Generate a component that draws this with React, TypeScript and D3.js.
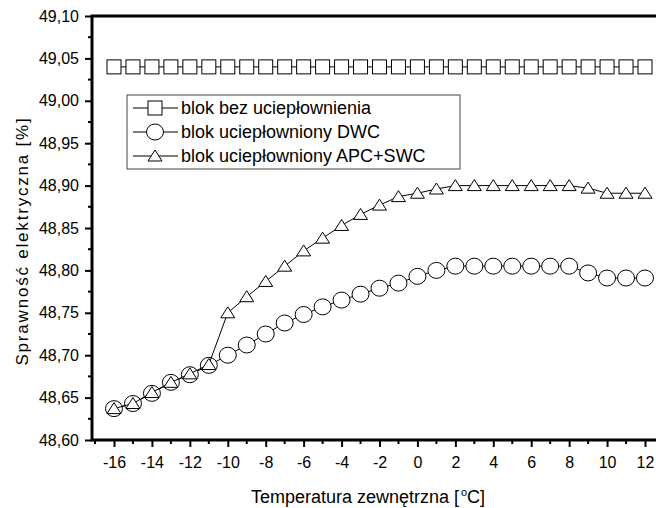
import React, { useEffect, useRef } from 'react';
import * as d3 from 'd3';

const width = 656;
const height = 508;
const margin = { top: 16, right: 0, bottom: 68, left: 92 };

// temperatures [°C]
const temps = [
  -16, -15, -14, -13, -12, -11, -10, -9, -8, -7, -6, -5, -4, -3, -2, -1, 0, 1,
  2, 3, 4, 5, 6, 7, 8, 9, 10, 11, 12,
];

const bezUcieplownienia = temps.map(() => 49.04);

const dwc = [
  48.637, 48.643, 48.655, 48.668, 48.677, 48.688, 48.7, 48.712, 48.725, 48.738,
  48.748, 48.757, 48.765, 48.772, 48.779, 48.785, 48.793, 48.8, 48.805, 48.805,
  48.805, 48.805, 48.805, 48.805, 48.805, 48.797, 48.791, 48.791, 48.791,
];

const apcSwc = [
  48.637, 48.643, 48.656, 48.668, 48.678, 48.689, 48.75, 48.769, 48.787,
  48.805, 48.823, 48.838, 48.853, 48.866, 48.877, 48.887, 48.891, 48.896,
  48.9, 48.9, 48.9, 48.9, 48.9, 48.9, 48.9, 48.897, 48.891, 48.891, 48.891,
];

const seriesNames = [
  'blok bez uciep\u0142ownienia',
  'blok uciep\u0142owniony DWC',
  'blok uciep\u0142owniony APC+SWC',
];

const yTicks = [48.6, 48.65, 48.7, 48.75, 48.8, 48.85, 48.9, 48.95, 49.0, 49.05, 49.1];
const xTicks = [-16, -14, -12, -10, -8, -6, -4, -2, 0, 2, 4, 6, 8, 10, 12];

const font = 'Liberation Sans, Arial, sans-serif';

export default function App() {
  const ref = useRef<SVGSVGElement>(null);

  useEffect(() => {
    if (!ref.current) return;
    const svg = d3.select(ref.current);
    svg.selectAll('*').remove();

    const x = d3
      .scaleLinear()
      .domain([-17.16, 12.58])
      .range([margin.left, width - margin.right]);
    const y = d3
      .scaleLinear()
      .domain([48.6, 49.1])
      .range([height - margin.bottom, margin.top]);

    const fmt = (v: number) => d3.format('.2f')(v).replace('.', ',');

    // minor ticks
    const yMinor = d3.range(48.625, 49.1, 0.05);
    svg
      .append('g')
      .selectAll('line')
      .data(yMinor)
      .join('line')
      .attr('x1', margin.left)
      .attr('x2', margin.left - 4)
      .attr('y1', (d) => y(d))
      .attr('y2', (d) => y(d))
      .attr('stroke', '#000')
      .attr('stroke-width', 2);
    const xMinor = d3.range(-17, 13, 2);
    svg
      .append('g')
      .selectAll('line')
      .data(xMinor)
      .join('line')
      .attr('x1', (d) => x(d))
      .attr('x2', (d) => x(d))
      .attr('y1', y(48.6))
      .attr('y2', y(48.6) + 4)
      .attr('stroke', '#000')
      .attr('stroke-width', 2);

    // y axis
    const yAxis = svg
      .append('g')
      .attr('transform', `translate(${margin.left},0)`)
      .call(d3.axisLeft(y).tickValues(yTicks).tickFormat(fmt as any).tickSize(7).tickPadding(6));
    yAxis.select('.domain').remove();
    yAxis.selectAll('line').attr('stroke-width', 2);
    yAxis.selectAll('text').attr('font-family', font).attr('font-size', 16).attr('fill', '#000');

    // x axis
    const xAxis = svg
      .append('g')
      .attr('transform', `translate(0,${y(48.6)})`)
      .call(
        d3
          .axisBottom(x)
          .tickValues(xTicks)
          .tickFormat((d: any) => String(d))
          .tickSize(7)
          .tickPadding(10)
      );
    xAxis.select('.domain').remove();
    xAxis.selectAll('line').attr('stroke-width', 2);
    xAxis.selectAll('text').attr('font-family', font).attr('font-size', 16).attr('fill', '#000');

    // frame
    svg
      .append('path')
      .attr(
        'd',
        `M${x(12.58)},${y(49.1)}H${x(-17.16)}V${y(48.6)}H${x(12.58)}`
      )
      .attr('fill', 'none')
      .attr('stroke', '#000')
      .attr('stroke-width', 3);

    const line = d3
      .line<number>()
      .x((_, i) => x(temps[i]))
      .y((d) => y(d));

    const drawSquares = (sel: any) =>
      sel
        .append('rect')
        .attr('x', -7)
        .attr('y', -7)
        .attr('width', 14)
        .attr('height', 14);
    const drawCircles = (sel: any) =>
      sel.append('ellipse').attr('rx', 8.5).attr('ry', 8);
    const drawTriangles = (sel: any) =>
      sel.append('path').attr('d', 'M0,-6L7,5H-7Z');

    const series = [
      { data: bezUcieplownienia, draw: drawSquares },
      { data: dwc, draw: drawCircles },
      { data: apcSwc, draw: drawTriangles },
    ];

    series.forEach((s) => {
      const g = svg.append('g');
      g.append('path')
        .attr('d', line(s.data))
        .attr('fill', 'none')
        .attr('stroke', '#000')
        .attr('stroke-width', 1);
      const pts = g
        .selectAll('g.pt')
        .data(s.data)
        .join('g')
        .attr('class', 'pt')
        .attr('transform', (d: number, i: number) => `translate(${x(temps[i])},${y(d)})`);
      s.draw(pts);
      pts.selectAll('*').attr('fill', '#fff').attr('stroke', '#000').attr('stroke-width', 1);
    });

    // legend
    const lg = svg.append('g').attr('transform', `translate(127,95)`);
    lg.append('rect')
      .attr('width', 333)
      .attr('height', 74)
      .attr('fill', '#fff')
      .attr('stroke', '#444')
      .attr('stroke-width', 1);
    const rowY = [13, 37, 61];
    series.forEach((s, i) => {
      const row = lg.append('g').attr('transform', `translate(0,${rowY[i]})`);
      row.append('line').attr('x1', 6).attr('x2', 51).attr('stroke', '#000');
      const m = row.append('g').attr('transform', 'translate(28,0)');
      s.draw(m);
      m.selectAll('*').attr('fill', '#fff').attr('stroke', '#000').attr('stroke-width', 1);
      row
        .append('text')
        .attr('x', 54)
        .attr('dy', '0.35em')
        .attr('font-family', font)
        .attr('font-size', 18)
        .text(seriesNames[i]);
    });

    // axis titles
    const xt = svg
      .append('text')
      .attr('x', 368)
      .attr('y', 503)
      .attr('text-anchor', 'middle')
      .attr('font-family', font)
      .attr('font-size', 18);
    xt.append('tspan').text('Temperatura zewn\u0119trzna [');
    xt.append('tspan').attr('font-size', 11).attr('dy', -7).attr('dx', 2).text('o');
    xt.append('tspan').attr('dy', 7).text('C]');

    svg
      .append('text')
      .attr('transform', `translate(28,241) rotate(-90)`)
      .attr('text-anchor', 'middle')
      .attr('font-family', font)
      .attr('font-size', 17)
      .attr('letter-spacing', 1.8)
      .text('Sprawno\u015b\u0107 elektryczna [%]');
  }, []);

  return (
    <svg
      ref={ref}
      width={width}
      height={height}
      style={{ position: 'absolute', left: 0, top: 0, background: '#fff' }}
    />
  );
}
